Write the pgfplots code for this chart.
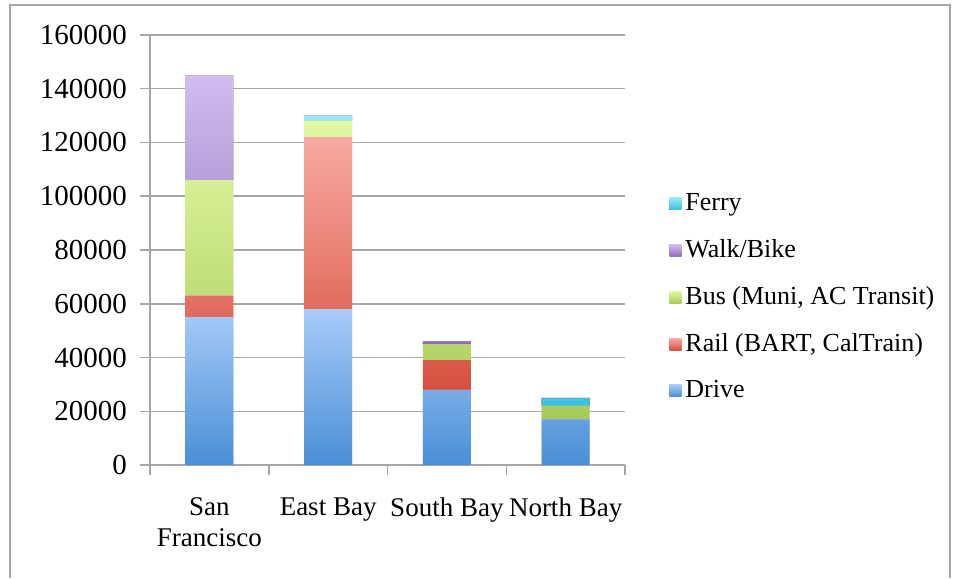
\documentclass[border=0pt]{standalone}
\usepackage{fontspec}
\setmainfont{Liberation Serif}
\usepackage{pgfplots}
\pgfplotsset{compat=1.18}
\usetikzlibrary{calc}

\definecolor{gridgray}{HTML}{A6A6A6}
\definecolor{driveT}{HTML}{A8CBF8}\definecolor{driveB}{HTML}{4A8ED6}
\definecolor{railT}{HTML}{F8AAA2}\definecolor{railB}{HTML}{D6503F}
\definecolor{busT}{HTML}{E2F8A4}\definecolor{busB}{HTML}{A6CA58}
\definecolor{walkT}{HTML}{D2BCF0}\definecolor{walkB}{HTML}{8E6EB6}
\definecolor{ferryT}{HTML}{96EAF8}\definecolor{ferryB}{HTML}{3EBEDE}

\begin{document}
\fontsize{13pt}{15pt}\selectfont
\begin{tikzpicture}
\begin{axis}[
    scale only axis,
    width=237.5pt, height=215pt,
    ybar stacked, bar width=24pt,
    xmin=-0.5, xmax=3.5,
    ymin=0, ymax=160000,
    ytick distance=20000,
    scaled y ticks=false,
    /pgf/number format/fixed,
    /pgf/number format/1000 sep={},
    /pgf/number format/assume math mode=true,
    xtick={0,1,2,3},
    xticklabels={San\\Francisco, East Bay, South Bay, North Bay},
    xticklabel style={align=center, anchor=north, yshift=-7pt,
        font=\fontsize{13.5pt}{15.5pt}\selectfont},
    yticklabel style={xshift=-2pt, font=\fontsize{14.5pt}{16pt}\selectfont},
    minor xtick={-0.5,0.5,1.5,2.5,3.5},
    major x tick style={draw=none},
    tick align=outside,
    major tick length=5pt, minor tick length=5pt,
    axis x line*=bottom, axis y line*=left,
    axis line style={gridgray, line width=0.75pt},
    tick style={gridgray, line width=0.75pt},
    ymajorgrids, grid style={gridgray, line width=0.75pt},
    legend style={at={(1.08,0.39)}, anchor=west, draw=none, fill=none,
        row sep=8.5pt, font=\fontsize{13pt}{15pt}\selectfont},
    legend cell align=left,
    reverse legend,
    legend image code/.code={\fill[#1] (0pt,-3pt) rectangle (6pt,3pt);},
    clip=false,
]
\addplot+[draw=none, top color=driveT, bottom color=driveB] coordinates {(0,55000) (1,58000) (2,28000) (3,17000)};
\addplot+[draw=none, top color=railT, bottom color=railB] coordinates {(0,8000) (1,64000) (2,11000) (3,0)};
\addplot+[draw=none, top color=busT, bottom color=busB] coordinates {(0,43000) (1,6000) (2,6000) (3,5000)};
\addplot+[draw=none, top color=walkT, bottom color=walkB] coordinates {(0,39000) (1,0) (2,1000) (3,0)};
\addplot+[draw=none, top color=ferryT, bottom color=ferryB] coordinates {(0,0) (1,2000) (2,0) (3,3000)};
\legend{Drive, Rail (BART{,} CalTrain), Bus (Muni{,} AC Transit), Walk/Bike, Ferry}
\coordinate (bl) at (rel axis cs:0,0);
\coordinate (tr) at (rel axis cs:1,1);
\end{axis}
% outer chart frame (its bottom edge lies below the visible area)
\draw[gridgray, line width=0.6pt]
    ($(bl)+(-70pt,-56.5pt)$) |- ($(tr)+(162.5pt,15pt)$) -- ($(tr|-bl)+(162.5pt,-56.5pt)$);
\path ($(bl)+(-75pt,-56.5pt)$) rectangle ($(tr)+(166pt,17.5pt)$);
\end{tikzpicture}
\end{document}
